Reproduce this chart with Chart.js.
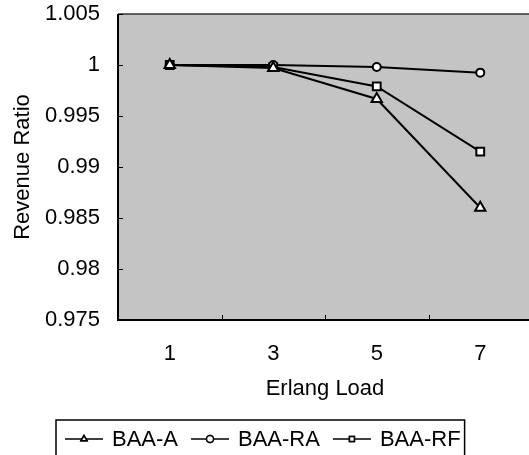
<!DOCTYPE html>
<html>
<head>
<meta charset="utf-8">
<script src="https://cdn.jsdelivr.net/npm/chart.js@4.4.1/dist/chart.umd.min.js"></script>
<style>
  html, body { margin: 0; padding: 0; background: #fff; overflow: hidden; }
  #wrap { width: 540px; height: 455px; }
</style>
</head>
<body>
<div id="wrap"><canvas id="chart"></canvas></div>
<script>
// data
const loads = ['1', '3', '5', '7'];
const baaA = [1.0, 0.9997, 0.99667, 0.9860];
const baaRA = [1.0, 1.0, 0.9998, 0.99925];
const baaRF = [1.0, 0.9998, 0.9979, 0.9915];
const yTickLabels = ['0.975', '0.98', '0.985', '0.99', '0.995', '1', '1.005'];

const FONT = "'Liberation Sans', Arial, sans-serif";

// gray plot area, frame and the short inward ticks
const frame = {
    id: 'frame',
    beforeDatasetsDraw(chart) {
        const a = chart.chartArea;
        const ctx = chart.ctx;
        ctx.save();
        ctx.fillStyle = '#c4c4c4';
        ctx.fillRect(a.left, a.top, a.right - a.left, a.bottom - a.top);
        ctx.restore();
    },
    afterDatasetsDraw(chart) {
        const a = chart.chartArea;
        const ctx = chart.ctx;
        const x = chart.scales.x;
        const y = chart.scales.y;
        ctx.save();
        // top edge
        ctx.lineWidth = 1.5;
        ctx.strokeStyle = '#333';
        ctx.beginPath();
        ctx.moveTo(a.left, a.top);
        ctx.lineTo(a.right, a.top);
        ctx.stroke();
        // left and bottom edges
        ctx.strokeStyle = '#000';
        ctx.lineWidth = 2;
        ctx.beginPath();
        ctx.moveTo(a.left, a.top);
        ctx.lineTo(a.left, a.bottom);
        ctx.lineTo(a.right, a.bottom);
        ctx.stroke();
        // y ticks pointing in
        ctx.lineWidth = 1;
        y.ticks.forEach((t, i) => {
            const py = Math.round(y.getPixelForTick(i)) + 0.5;
            ctx.beginPath();
            ctx.moveTo(a.left, py);
            ctx.lineTo(a.left + 5, py);
            ctx.stroke();
        });
        // x ticks between the categories
        const half = (x.getPixelForTick(1) - x.getPixelForTick(0)) / 2;
        for (let i = 1; i < loads.length; i++) {
            const px = Math.round(x.getPixelForTick(i) - half) + 0.5;
            ctx.beginPath();
            ctx.moveTo(px, a.bottom);
            ctx.lineTo(px, a.bottom - 5);
            ctx.stroke();
        }
        ctx.restore();
    }
};

// boxed legend with line samples under the axis title
const boxLegend = {
    id: 'boxLegend',
    afterDraw(chart) {
        const ctx = chart.ctx;
        const top = 420, mid = 439;
        let x = 56;
        ctx.save();
        ctx.font = '22px ' + FONT;
        ctx.textBaseline = 'middle';
        ctx.fillStyle = '#000';
        ctx.strokeStyle = '#000';
        const start = x;
        x += 9;
        chart.data.datasets.forEach(ds => {
            ctx.lineWidth = 1.5;
            ctx.beginPath();
            ctx.moveTo(x, mid);
            ctx.lineTo(x + 38, mid);
            ctx.stroke();
            Chart.helpers.drawPoint(ctx, {
                pointStyle: ds.pointStyle,
                radius: 3.5,
                borderWidth: 1.5
            }, x + 19, mid);
            ctx.fillStyle = '#fff';
            ctx.fill();
            ctx.stroke();
            ctx.fillStyle = '#000';
            x += 47;
            ctx.fillText(ds.label, x, mid + 1);
            x += ctx.measureText(ds.label).width + 13;
        });
        ctx.lineWidth = 1.5;
        ctx.strokeRect(start, top, x - 13 + 4 - start, 60);
        ctx.restore();
    }
};

function series(label, data, style, radius) {
    return {
        label: label,
        data: data,
        borderColor: '#000',
        borderWidth: 2,
        backgroundColor: '#fff',
        pointStyle: style,
        pointRadius: radius,
        pointBorderWidth: 2,
        pointBackgroundColor: '#fff',
        pointBorderColor: '#000',
        tension: 0
    };
}

new Chart(document.getElementById('chart'), {
    type: 'line',
    data: {
        labels: loads,
        datasets: [
            series('BAA-A', baaA, 'triangle', 6),
            series('BAA-RA', baaRA, 'circle', 4),
            series('BAA-RF', baaRF, 'rect', 5.5)
        ]
    },
    options: {
        responsive: true,
        maintainAspectRatio: false,
        animation: false,
        devicePixelRatio: 1,
        layout: { padding: { top: 14, right: 5, left: 0, bottom: 0 } },
        plugins: {
            legend: { display: false },
            tooltip: { enabled: false }
        },
        scales: {
            x: {
                offset: true,
                grid: { display: false, drawTicks: false },
                border: { display: false },
                ticks: {
                    color: '#000',
                    padding: 21,
                    font: { family: FONT, size: 22 }
                },
                title: {
                    display: true,
                    text: 'Erlang Load',
                    color: '#000',
                    font: { family: FONT, size: 22 },
                    padding: { top: 0, bottom: 53 }
                },
                afterFit(scale) {
                    scale.height = 135;
                    scale.paddingLeft = 0;
                    scale.paddingRight = 0;
                }
            },
            y: {
                min: 0.975,
                max: 1.005,
                grid: { display: false, drawTicks: false },
                border: { display: false },
                ticks: {
                    stepSize: 0.005,
                    color: '#000',
                    padding: 18,
                    font: { family: FONT, size: 22 },
                    callback: function(value, index) {
                        return yTickLabels[index];
                    }
                },
                title: {
                    display: true,
                    text: 'Revenue Ratio',
                    color: '#000',
                    font: { family: FONT, size: 22 },
                    padding: { top: 10, bottom: 0 }
                },
                afterFit(scale) {
                    scale.width = 118;
                    scale.paddingTop = 0;
                    scale.paddingBottom = 0;
                }
            }
        }
    },
    plugins: [frame, boxLegend]
});
</script>
</body>
</html>
